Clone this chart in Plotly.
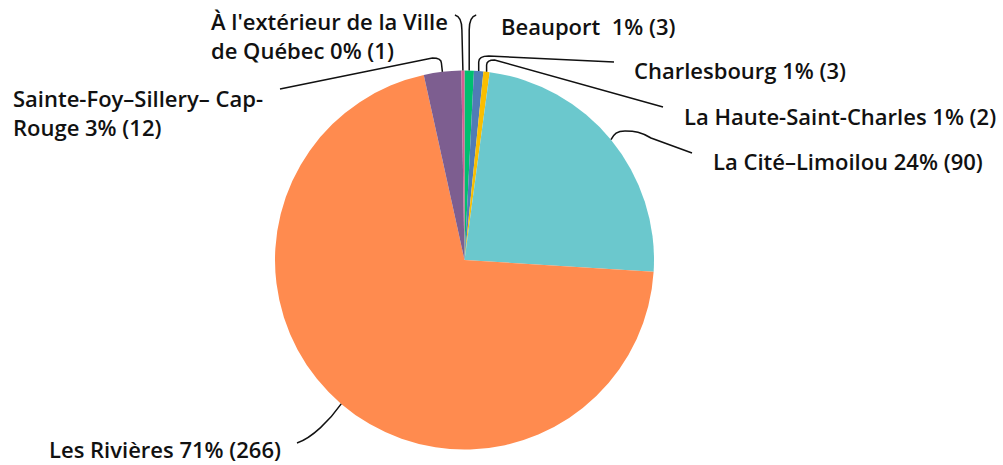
import math
import plotly.graph_objects as go

labels = ["Beauport", "Charlesbourg", "La Haute-Saint-Charles", "La Cité–Limoilou",
          "Les Rivières", "Sainte-Foy–Sillery– Cap-Rouge", "À l'extérieur de la Ville de Québec"]
values = [3, 3, 2, 90, 266, 12, 1]
label_texts = ["Beauport  1% (3)", "Charlesbourg 1% (3)", "La Haute-Saint-Charles 1% (2)",
               "La Cité–Limoilou 24% (90)", "Les Rivières 71% (266)",
               "Sainte-Foy–Sillery– Cap-<br>Rouge 3% (12)",
               "À l'extérieur de la Ville<br>de Québec 0% (1)"]
colors = ["#00BF6F", "#507CB6", "#F9BE00", "#6BC8CD", "#FF8B4F", "#7D5E90", "#D25F90"]

W, H = 1003, 465
CX, CY, R = 464.5, 260.0, 189.5

def px(x):
    return x / W

def py(y):
    return 1 - y / H

fig = go.Figure(go.Pie(
    labels=labels, values=values, sort=False, direction="clockwise", rotation=0,
    marker=dict(colors=colors, line=dict(width=0)), textinfo="none",
    hoverinfo="label+value+percent", showlegend=False,
    domain=dict(x=[px(CX - R), px(CX + R)], y=[py(CY + R), py(CY - R)]),
))

# slice mid-angles (from data)
total = sum(values)
mids = []
cum = 0
for v in values:
    a = (cum + v / 2) / total * 2 * math.pi
    mids.append((CX + R * math.sin(a), CY - R * math.cos(a)))
    cum += v

# label placement (pixels): left x, y (middle)
label_pos = [
    (499, 26), (632, 70), (682, 116), (711, 161), (47, 449), (11, 112), (209, 36),
]
leaders = [
    lambda s: f"M{s[0]},{s[1]} L{s[0]},30 C{s[0]},21 {s[0]+3},16 {s[0]+7},15",
    lambda s: f"M{s[0]},{s[1]} L{s[0]},62 C{s[0]},57 {s[0]+4},56 {s[0]+10},56 L614,62",
    lambda s: f"M{s[0]},{s[1]} L{s[0]},65 C{s[0]},61 {s[0]+3},60 {s[0]+8},60 L663,107",
    lambda s: f"M{s[0]},{s[1]} C{s[0]+3},134 {s[0]+6},131 {s[0]+14},131 C{s[0]+24},131 {s[0]+30},132 {s[0]+40},138 L692,153",
    lambda s: f"M{s[0]},{s[1]} C330,420 312,438 297,443",
    lambda s: f"M{s[0]},{s[1]} L{s[0]-1},63 C{s[0]-1},59 {s[0]-4},58 {s[0]-10},58 L280,89",
    lambda s: f"M{s[0]},{s[1]} L{s[0]-1},30 C{s[0]-1},21 {s[0]-4},16 {s[0]-8},15",
]

def to_paper_path(d):
    out = []
    for tok in d.replace("M", " M ").replace("L", " L ").replace("C", " C ").split():
        if tok in ("M", "L", "C"):
            out.append(tok)
        else:
            x, y = tok.split(",")
            out.append(f"{px(float(x)):.5f},{py(float(y)):.5f}")
    return " ".join(out)

for i, s in enumerate(mids):
    d = leaders[i]((round(s[0], 1), round(s[1], 1)))
    fig.add_shape(type="path", path=to_paper_path(d), xref="paper", yref="paper",
                  line=dict(color="#111111", width=1.5))
    lx, ly = label_pos[i]
    fig.add_annotation(x=px(lx), y=py(ly), xref="paper", yref="paper", text=label_texts[i],
                       showarrow=False, xanchor="left", yanchor="middle", align="left",
                       font=dict(family="Open Sans", size=22, color="#111111", weight=600))

fig.update_layout(width=W, height=H, margin=dict(l=0, r=0, t=0, b=0),
                  paper_bgcolor="white", plot_bgcolor="white")
fig.write_html("out.html", config={"displayModeBar": False},
               post_script="document.body.style.margin='0';document.body.style.overflow='hidden';")
